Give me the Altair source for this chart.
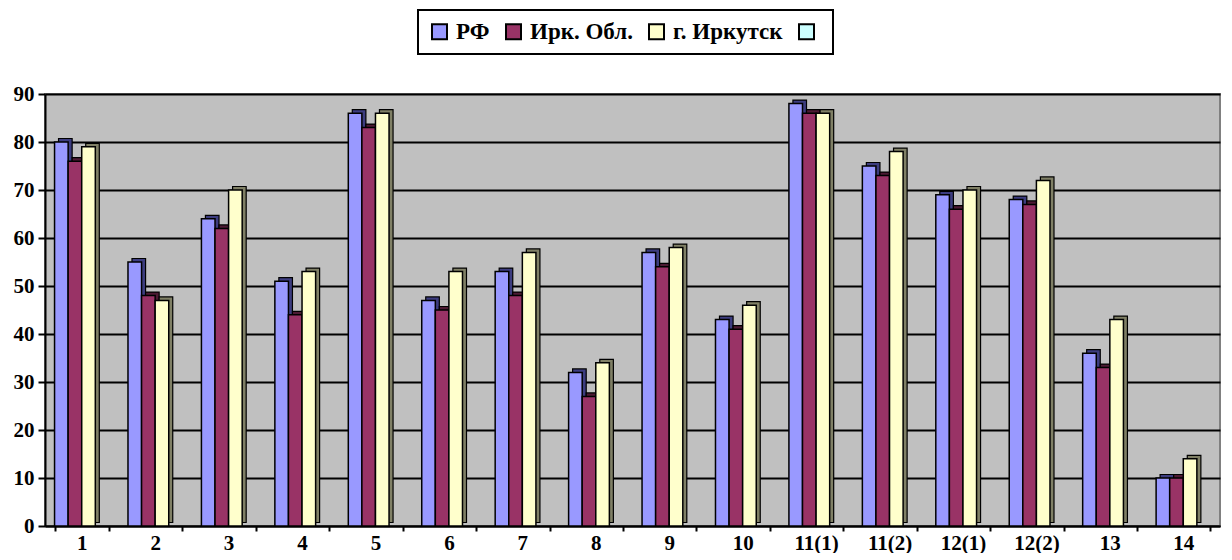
import altair as alt
import pandas as pd

categories = ["1", "2", "3", "4", "5", "6", "7", "8", "9", "10",
              "11(1)", "11(2)", "12(1)", "12(2)", "13", "14"]
rf = [80, 55, 64, 51, 86, 47, 53, 32, 57, 43, 88, 75, 69, 68, 36, 10]
irk_obl = [76, 48, 62, 44, 83, 45, 48, 27, 54, 41, 86, 73, 66, 67, 33, 10]
irkutsk = [79, 47, 70, 53, 86, 53, 57, 34, 58, 46, 86, 78, 70, 72, 43, 14]

series = ["РФ", "Ирк. Обл.", "г. Иркутск", " "]
front_colors = ["#9999FF", "#993366", "#FFFFCC", "#CCFFFF"]
side_colors = ["#3D3D80", "#4D1A33", "#808066", "#668080"]

rows = []
for name, vals in zip(series[:3], [rf, irk_obl, irkutsk]):
    for c, v in zip(categories, vals):
        rows.append({"cat": c, "series": name, "value": v})
df = pd.DataFrame(rows)

W, H = 1175, 432
n = len(categories)
p_in, p_out = 0.26, 0.13
step = W / (n - p_in + 2 * p_out)
bw = step * (1 - p_in)
dx, dy = 4, 3.5

font = "Liberation Serif"

x_enc = alt.X("cat:N", sort=categories,
              scale=alt.Scale(domain=categories, paddingInner=p_in, paddingOuter=p_out),
              axis=alt.Axis(title=None, labelAngle=0, tickBand="extent", tickSize=5,
                            labelPadding=1, labelFontSize=21, labelFont=font,
                            labelFontWeight="bold", grid=False))
y_enc = alt.Y("value:Q",
              scale=alt.Scale(domain=[0, 90], nice=False),
              axis=alt.Axis(title=None, values=list(range(0, 91, 10)), tickSize=7,
                            labelPadding=4, labelFontSize=21, labelFont=font,
                            labelFontWeight="bold", grid=True,
                            gridColor="#000000", gridWidth=2))

back = alt.Chart(df).mark_bar(
    yOffset=-dy, y2Offset=-dy, stroke="#000000", strokeWidth=1.2
).encode(
    x=x_enc, y=y_enc,
    xOffset=alt.XOffset("series:N",
                        scale=alt.Scale(domain=series, range=[dx, bw + dx],
                                        paddingInner=0, paddingOuter=0)),
    color=alt.Color("series:N", scale=alt.Scale(domain=series, range=side_colors),
                    legend=None),
)

front = alt.Chart(df).mark_bar(stroke="#000000", strokeWidth=1.5).encode(
    x=x_enc, y=y_enc,
    xOffset=alt.XOffset("series:N",
                        scale=alt.Scale(domain=series, range=[0, bw],
                                        paddingInner=0, paddingOuter=0)),
    color=alt.Color("series:N",
                    scale=alt.Scale(domain=series, range=front_colors),
                    legend=alt.Legend(
                        title=None, orient="none", direction="horizontal",
                        legendX=373, legendY=-84,
                        symbolType="square", symbolSize=225,
                        symbolStrokeColor="#000000", symbolStrokeWidth=2,
                        symbolOpacity=1,
                        labelFont=font, labelFontWeight="bold", labelFontSize=23,
                        labelColor="#000000", labelOffset=5, columnPadding=12,
                        strokeColor="#000000", padding=10,
                        fillColor="#FFFFFF")),
)

chart = alt.layer(back, front).resolve_scale(
    color="independent", xOffset="independent"
).properties(
    width=W, height=H,
    padding={"left": 5, "top": 1, "right": 2, "bottom": 0},
).configure(
    font=font
).configure_view(
    fill="#C0C0C0", stroke="#808080", strokeWidth=2
).configure_axis(
    labelColor="#000000",
    domainColor="#000000", domainWidth=2, tickColor="#000000", tickWidth=2,
).configure_legend(
    strokeWidth=2
)

chart.save("out.html", embed_options={"renderer": "svg", "actions": False})
